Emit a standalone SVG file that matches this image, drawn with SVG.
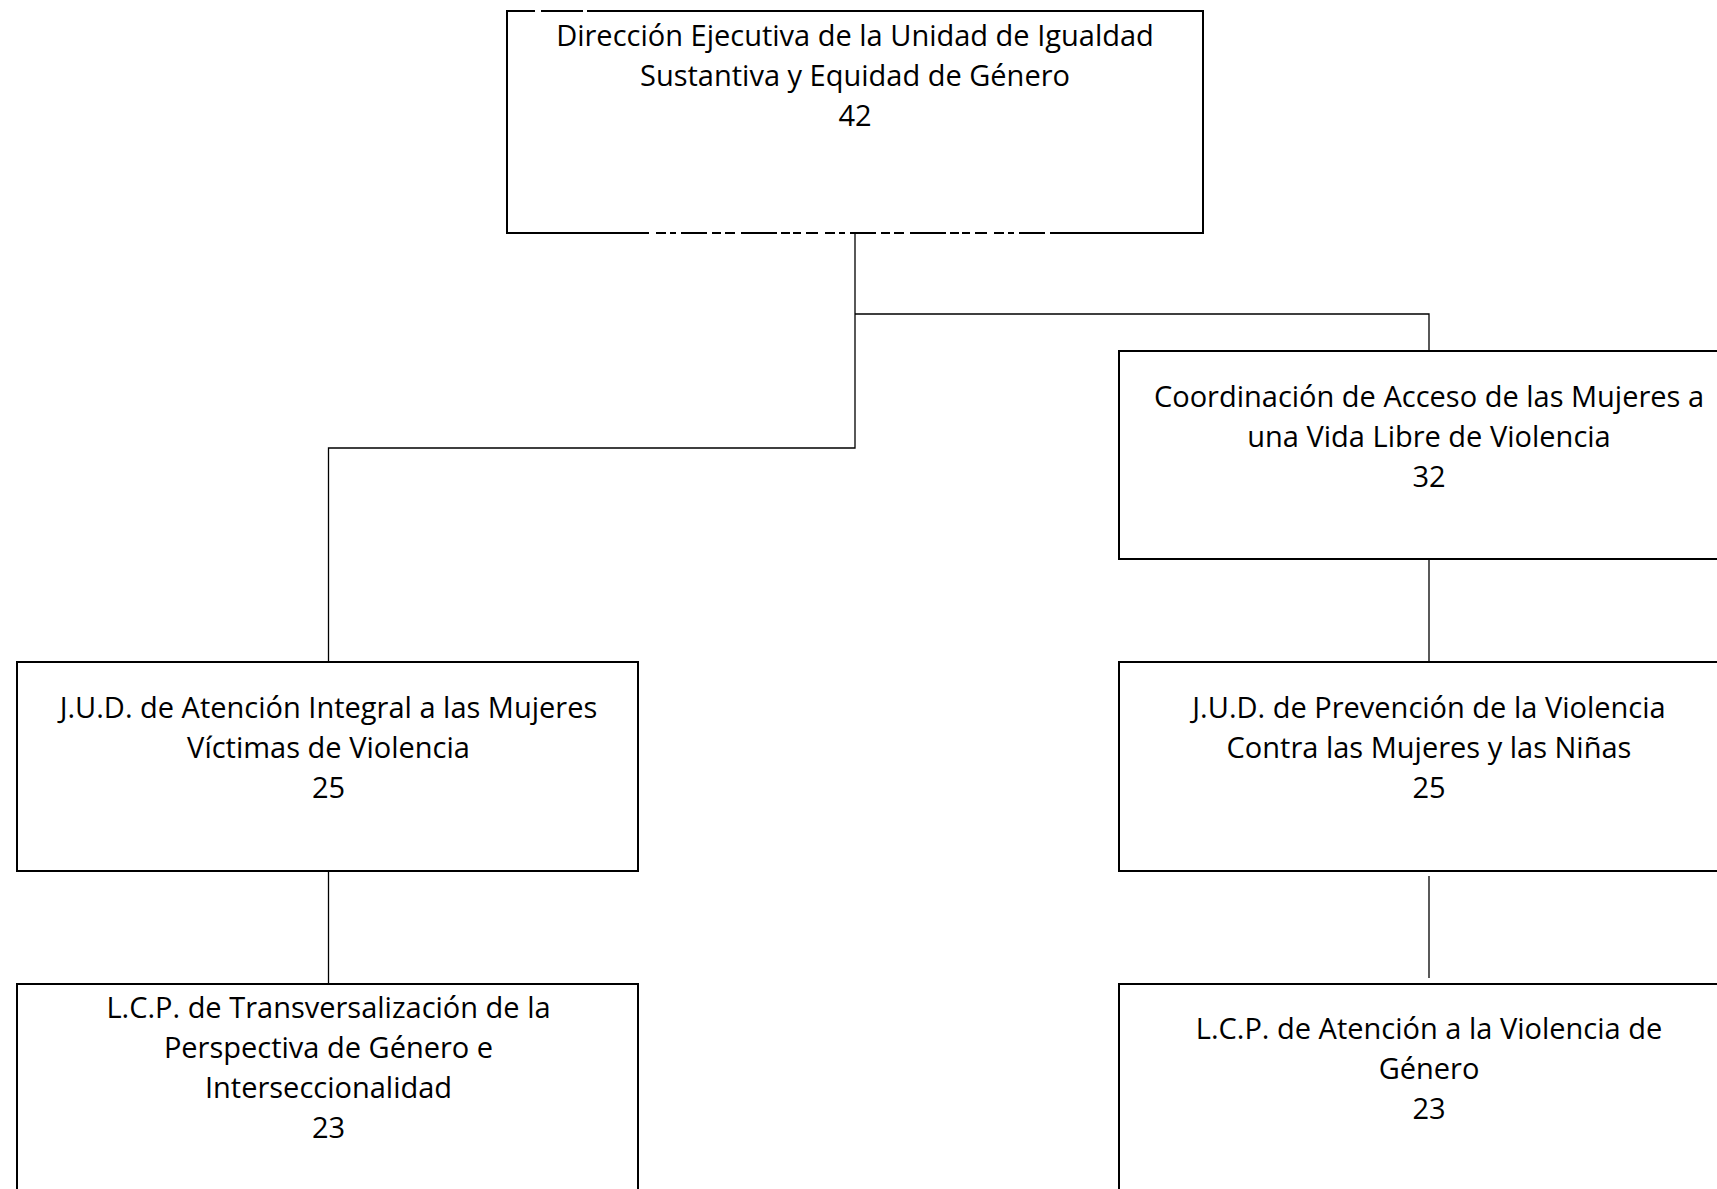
<svg xmlns="http://www.w3.org/2000/svg" width="1717" height="1189" viewBox="0 0 1717 1189">
<style>
.box{fill:#fff;stroke:#000;stroke-width:2}
.conn{fill:none;stroke:#000;stroke-width:1.3}
.t{font-family:"Open Sans","Noto Sans","Liberation Sans",sans-serif;font-size:29px;fill:#000;text-anchor:middle}
.glitch{fill:none;stroke:#fff;stroke-width:3}
</style>
<rect width="1717" height="1189" fill="#fff"/>
<g id="connectors">
<path class="conn" d="M855 233 V448 H328.5 V662"/>
<path class="conn" d="M855 314 H1429 V351"/>
<path class="conn" d="M1429 559 V662"/>
<path class="conn" d="M328.5 871 V984"/>
<path class="conn" d="M1429 876 V978"/>
</g>
<g id="n-direccion">
<rect class="box" x="507" y="11" width="696" height="222"/>
<path class="glitch" d="M535 11 H541 M583 11 H587"/>
<path class="glitch" d="M649 233 H1057" stroke-dasharray="7 10 4 6 5 26 5 9 4 10 6 36 4 9 3 8 5 12"/>
<text class="t" x="855" y="46">Dirección Ejecutiva de la Unidad de Igualdad</text>
<text class="t" x="855" y="86">Sustantiva y Equidad de Género</text>
<text class="t" x="855" y="126">42</text>
</g>
<g id="n-coordinacion">
<rect class="box" x="1119" y="351" width="620" height="208"/>
<text class="t" x="1429" y="407">Coordinación de Acceso de las Mujeres a</text>
<text class="t" x="1429" y="447">una Vida Libre de Violencia</text>
<text class="t" x="1429" y="487">32</text>
</g>
<g id="n-jud-atencion">
<rect class="box" x="17" y="662" width="621" height="209"/>
<text class="t" x="328.5" y="718">J.U.D. de Atención Integral a las Mujeres</text>
<text class="t" x="328.5" y="758">Víctimas de Violencia</text>
<text class="t" x="328.5" y="798">25</text>
</g>
<g id="n-jud-prevencion">
<rect class="box" x="1119" y="662" width="620" height="209"/>
<text class="t" x="1429" y="718">J.U.D. de Prevención de la Violencia</text>
<text class="t" x="1429" y="758">Contra las Mujeres y las Niñas</text>
<text class="t" x="1429" y="798">25</text>
</g>
<g id="n-lcp-transversalizacion">
<rect class="box" x="17" y="984" width="621" height="230"/>
<text class="t" x="328.5" y="1018">L.C.P. de Transversalización de la</text>
<text class="t" x="328.5" y="1058">Perspectiva de Género e</text>
<text class="t" x="328.5" y="1098">Interseccionalidad</text>
<text class="t" x="328.5" y="1138">23</text>
</g>
<g id="n-lcp-violencia">
<rect class="box" x="1119" y="984" width="620" height="230"/>
<text class="t" x="1429" y="1039">L.C.P. de Atención a la Violencia de</text>
<text class="t" x="1429" y="1079">Género</text>
<text class="t" x="1429" y="1119">23</text>
</g>
</svg>
